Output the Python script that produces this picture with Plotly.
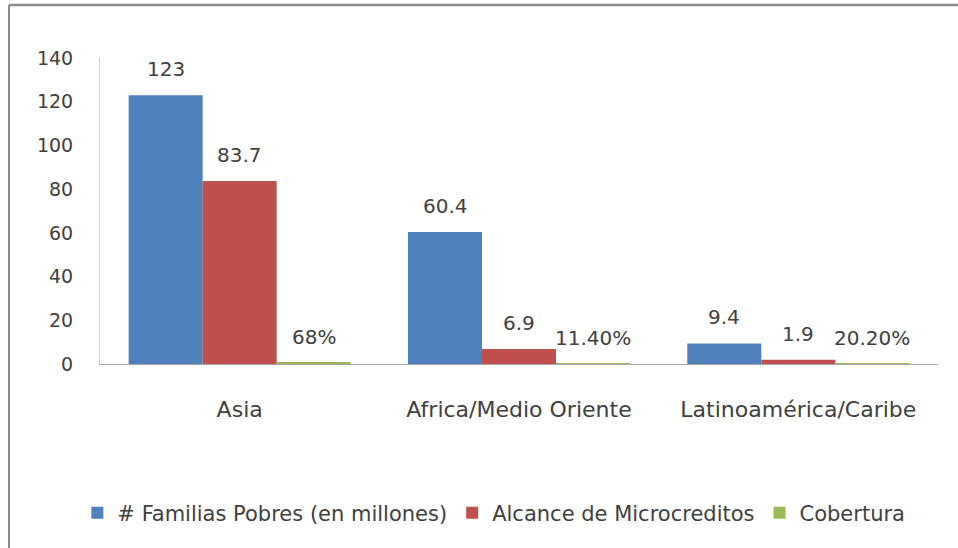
import plotly.graph_objects as go

regions = ["Asia", "Africa/Medio Oriente", "Latinoamérica/Caribe"]
familias_pobres = [123, 60.4, 9.4]
alcance_micro = [83.7, 6.9, 1.9]
cobertura = [0.68, 0.114, 0.202]
cobertura_labels = ["68%", "11.40%", "20.20%"]
y_ticks = [0, 20, 40, 60, 80, 100, 120, 140]

FONT = "DejaVu Sans"
TXT = "#404040"

# plot-area pixel geometry (figure is 958 x 548)
L, R, T, B = 100, 938, 58, 364
W, H = 958, 548
BAR_PX = 74  # width of one bar in a group


def px(x):
    return (x - L) / (R - L)


def py(y):
    return (B - y) / (B - T)


series = [
    ("# Familias Pobres (en millones)", familias_pobres,
     [f"{v:g}" for v in familias_pobres], "#4F81BD"),
    ("Alcance de Microcreditos", alcance_micro,
     [f"{v:g}" for v in alcance_micro], "#C0504D"),
    ("Cobertura", cobertura, cobertura_labels, "#9BBB59"),
]

fig = go.Figure()
for i, (name, vals, labels, color) in enumerate(series):
    fig.add_bar(x=regions, y=vals, name=name, marker_color=color,
                marker_line_width=0)
    for reg, v, lab in zip(regions, vals, labels):
        fig.add_annotation(x=reg, y=v, text=lab, showarrow=False,
                           xanchor="center", yanchor="bottom",
                           xshift=(i - 1) * BAR_PX, yshift=12,
                           font=dict(family=FONT, size=20, color=TXT))

fig.update_layout(
    width=W, height=H,
    margin=dict(l=L, r=W - R, t=T, b=H - B, autoexpand=False),
    paper_bgcolor="white", plot_bgcolor="white",
    barmode="group", bargap=0.205, bargroupgap=0,
    font=dict(family=FONT, color=TXT),
    xaxis=dict(showline=True, linecolor="#A6A6A6", linewidth=1, ticks="",
               tickfont=dict(size=22, color=TXT), ticklabelstandoff=26,
               showgrid=False),
    yaxis=dict(range=[0, 140], tickvals=y_ticks, showline=True,
               linecolor="#D0D0D0", linewidth=1, ticks="", showgrid=False,
               zeroline=False, tickfont=dict(size=19, color=TXT),
               ticklabelstandoff=22),
    legend=dict(orientation="h", x=0.47, xanchor="center", y=py(513),
                yanchor="middle", font=dict(family=FONT, size=21, color=TXT),
                itemwidth=30, traceorder="normal"),
    showlegend=True,
)

# outer chart frame
fig.add_shape(type="line", xref="paper", yref="paper",
              x0=px(9), x1=px(958), y0=py(5), y1=py(5),
              line=dict(color="#8C8C8C", width=2.5))
fig.add_shape(type="line", xref="paper", yref="paper",
              x0=px(9), x1=px(9), y0=py(5), y1=py(548),
              line=dict(color="#8C8C8C", width=2))

fig.write_html("out.html")
